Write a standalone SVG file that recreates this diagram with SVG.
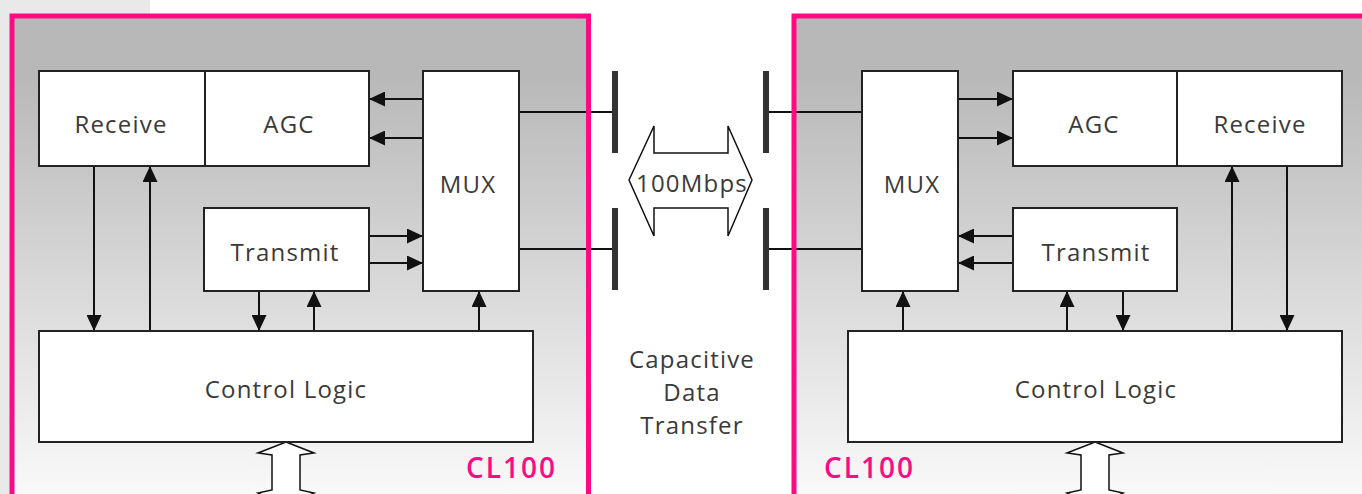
<svg xmlns="http://www.w3.org/2000/svg" width="1362" height="494" viewBox="0 0 1362 494">
<defs>
  <linearGradient id="bg" gradientUnits="userSpaceOnUse" x1="0" y1="16" x2="0" y2="494">
    <stop offset="0" stop-color="#b8b8b8"/>
    <stop offset="0.12" stop-color="#b8b8b8"/>
    <stop offset="1" stop-color="#f9f9f9"/>
  </linearGradient>
  <marker id="ah" markerUnits="userSpaceOnUse" markerWidth="16" markerHeight="15" refX="16" refY="7.5" orient="auto">
    <path d="M0,0 L16,7.5 L0,15 z" fill="#111"/>
  </marker>
</defs>
<style>
  .box { fill: #ffffff; stroke: #222; stroke-width: 2; }
  .lbl { font-family: "Open Sans", "Liberation Sans", sans-serif; font-size: 24px; fill: #3a3a3a; letter-spacing: 1.2px; text-anchor: middle; }
  .cl { font-family: "Open Sans", "Liberation Sans", sans-serif; font-size: 28px; font-weight: 600; fill: #ff0a85; letter-spacing: 2px; }
  .ln { stroke: #111; stroke-width: 2; fill: none; }
  .arr { stroke: #111; stroke-width: 2; fill: none; marker-end: url(#ah); }
  .frame { fill: none; stroke: #ff0a85; stroke-width: 5; }
  .plate { fill: #333; }
  .big { fill: #fff; stroke: #111; stroke-width: 1.5; }
</style>

<rect x="0" y="0" width="150" height="494" fill="#e9e9e9"/>
<rect x="12" y="16" width="576.5" height="481" fill="url(#bg)"/>
<rect x="794" y="16" width="600" height="481" fill="url(#bg)"/>

<g id="connectors">
  <line class="ln" x1="519" y1="112" x2="612" y2="112"/>
  <line class="ln" x1="519" y1="249" x2="612" y2="249"/>
  <line class="ln" x1="769" y1="112" x2="862" y2="112"/>
  <line class="ln" x1="769" y1="249" x2="862" y2="249"/>

  <line class="arr" x1="423" y1="99" x2="369" y2="99"/>
  <line class="arr" x1="423" y1="138" x2="369" y2="138"/>
  <line class="arr" x1="369" y1="236" x2="423" y2="236"/>
  <line class="arr" x1="369" y1="263" x2="423" y2="263"/>
  <line class="arr" x1="94" y1="166" x2="94" y2="331"/>
  <line class="arr" x1="150" y1="331" x2="150" y2="166"/>
  <line class="arr" x1="259" y1="291" x2="259" y2="331"/>
  <line class="arr" x1="314" y1="331" x2="314" y2="291"/>
  <line class="arr" x1="479" y1="331" x2="479" y2="291"/>

  <line class="arr" x1="958" y1="99" x2="1013" y2="99"/>
  <line class="arr" x1="958" y1="138" x2="1013" y2="138"/>
  <line class="arr" x1="1013" y1="236" x2="958" y2="236"/>
  <line class="arr" x1="1013" y1="263" x2="958" y2="263"/>
  <line class="arr" x1="903" y1="331" x2="903" y2="291"/>
  <line class="arr" x1="1067" y1="331" x2="1067" y2="291"/>
  <line class="arr" x1="1123" y1="291" x2="1123" y2="331"/>
  <line class="arr" x1="1232" y1="331" x2="1232" y2="166"/>
  <line class="arr" x1="1287" y1="166" x2="1287" y2="331"/>

  <polygon class="big" points="286,442 314,453 300,455 300,490 314,493 286,506 258,493 272,490 272,455 258,453"/>
  <polygon class="big" points="1095,442 1123,453 1109,455 1109,490 1123,493 1095,506 1067,493 1081,490 1081,455 1067,453"/>
</g>

<rect class="frame" x="12" y="16" width="576.5" height="481"/>
<rect class="frame" x="794" y="16" width="600" height="481"/>

<g id="left-receive"><rect class="box" x="39" y="71" width="166" height="95"/><text class="lbl" x="121" y="133">Receive</text></g>
<g id="left-agc"><rect class="box" x="205" y="71" width="164" height="95"/><text class="lbl" x="289" y="133">AGC</text></g>
<g id="left-mux"><rect class="box" x="423" y="71" width="96" height="220"/><text class="lbl" x="468" y="193">MUX</text></g>
<g id="left-transmit"><rect class="box" x="204" y="208" width="165" height="83"/><text class="lbl" x="285" y="261">Transmit</text></g>
<g id="left-control"><rect class="box" x="39" y="331" width="494" height="111"/><text class="lbl" x="286" y="398">Control Logic</text></g>
<g id="left-label"><text class="cl" x="466" y="478">CL100</text></g>

<g id="right-mux"><rect class="box" x="862" y="71" width="96" height="220"/><text class="lbl" x="912" y="193">MUX</text></g>
<g id="right-agc"><rect class="box" x="1013" y="71" width="164" height="95"/><text class="lbl" x="1094" y="133">AGC</text></g>
<g id="right-receive"><rect class="box" x="1177" y="71" width="165" height="95"/><text class="lbl" x="1260" y="133">Receive</text></g>
<g id="right-transmit"><rect class="box" x="1013" y="208" width="164" height="83"/><text class="lbl" x="1096" y="261">Transmit</text></g>
<g id="right-control"><rect class="box" x="848" y="331" width="494" height="111"/><text class="lbl" x="1096" y="398">Control Logic</text></g>
<g id="right-label"><text class="cl" x="824" y="478">CL100</text></g>

<g id="link">
  <rect class="plate" x="612" y="71" width="6" height="82"/>
  <rect class="plate" x="612" y="208" width="6" height="82"/>
  <rect class="plate" x="763" y="71" width="6" height="82"/>
  <rect class="plate" x="763" y="208" width="6" height="82"/>
  <polygon class="big" points="629,180 654,126 654,153 728,153 728,126 752,180 728,236 728,208 654,208 654,236"/>
  <text class="lbl" x="692" y="192">100Mbps</text>
  <text class="lbl" x="692" y="368">Capacitive</text>
  <text class="lbl" x="692" y="401">Data</text>
  <text class="lbl" x="692" y="434">Transfer</text>
</g>
</svg>
